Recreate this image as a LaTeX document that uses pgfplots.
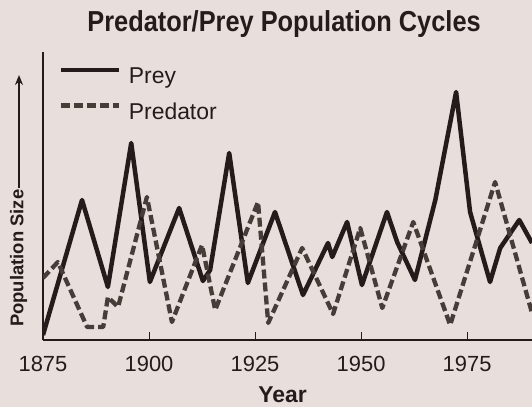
\documentclass[border=0pt]{standalone}
\usepackage{graphicx}
\usepackage{pgfplots}
\pgfplotsset{compat=1.18}
\usepackage{fontspec}
\setmainfont{Liberation Sans}
\usetikzlibrary{arrows.meta}
\definecolor{paper}{RGB}{232,222,220}
\definecolor{ink}{RGB}{38,27,27}
\definecolor{inkd}{RGB}{72,60,56}

\pgfplotstableread{
x y
1875.0 5
1884.2 140
1890.3 53
1895.8 197
1900.2 58
1907.1 132
1912.7 59
1914.4 70
1918.9 187
1923.3 57
1929.7 128
1936.3 45
1942.2 97
1943.2 83
1946.7 118
1950.2 55
1956.1 128
1958.5 98
1962.7 60
1967.5 140
1972.4 248
1975.7 128
1980.4 58
1982.8 92
1987.3 120
1990.3 97
}\prey

\pgfplotstableread{
x y
1875.0 62
1878.5 78
1885.4 13
1889.2 13
1890.3 43
1892.7 33
1899.5 143
1905.4 18
1912.5 95
1915.6 30
1925.7 138
1928.1 17
1936.1 92
1943.4 26
1949.8 112
1955.0 32
1962.3 118
1971.0 15
1981.6 158
1990.3 27
}\predator

\begin{document}
\begin{tikzpicture}[x=1bp,y=1bp]
\fill[paper] (0,0) rectangle (532,407);
\path[use as bounding box] (0,0) rectangle (532,407);
\begin{axis}[
  at={(43bp,67bp)}, anchor=south west,
  scale only axis, width=489bp, height=288bp,
  xmin=1875, xmax=1990.3, ymin=0, ymax=288,
  axis x line*=bottom, axis y line*=left,
  axis line style={ink, line width=2.5bp, -},
  ytick=\empty,
  xtick={1875,1900,1925,1950,1975},
  xticklabels={1875,1900,1925,1950,1975},
  tick align=inside,
  major tick length=8bp,
  tick style={ink, line width=0.8bp},
  xticklabel style={font=\fontsize{22}{26}\selectfont, text=ink, inner sep=0pt, anchor=north, yshift=-16bp},
  /pgf/number format/assume math mode=true,
  title={\scalebox{0.878}[1]{Predator/Prey Population Cycles}},
  title style={at={(rel axis cs:0.493,1.052)}, anchor=base, inner sep=0pt, font=\bfseries\fontsize{29}{33}\selectfont, text=ink},
  xlabel={Year},
  xlabel style={at={(rel axis cs:0.49,0)}, anchor=base, yshift=-62bp, inner sep=0pt, font=\bfseries\fontsize{23}{27}\selectfont, text=ink},
  ylabel={Population Size},
  ylabel style={at={(rel axis cs:-0.0399,0.045)}, anchor=base west, rotate=0, inner sep=0pt, font=\bfseries\fontsize{18.5}{22}\selectfont, text=ink},
  legend style={at={(rel axis cs:0.031,0.951)}, anchor=north west, draw=none, fill=none, inner sep=0pt, row sep=16bp, column sep=7bp,
    font=\fontsize{23}{27}\selectfont, text=ink, nodes={inner sep=1bp}},
  legend cell align=left,
  legend image code/.code={\draw[#1] (0bp,6bp) -- (58bp,6bp);},
]
\addplot[ink, line width=4.5bp, line join=round] table[x=x,y=y] {\prey};
\addlegendentry{Prey}
\addplot[inkd, line width=4.3bp, dash pattern=on 9bp off 4bp, line join=round] table[x=x,y=y] {\predator};
\addlegendentry{Predator}
\end{axis}
\draw[ink, line width=1.5bp, -{Stealth[length=10bp,width=8bp]}] (19,219) -- (19,332);
\end{tikzpicture}
\end{document}
